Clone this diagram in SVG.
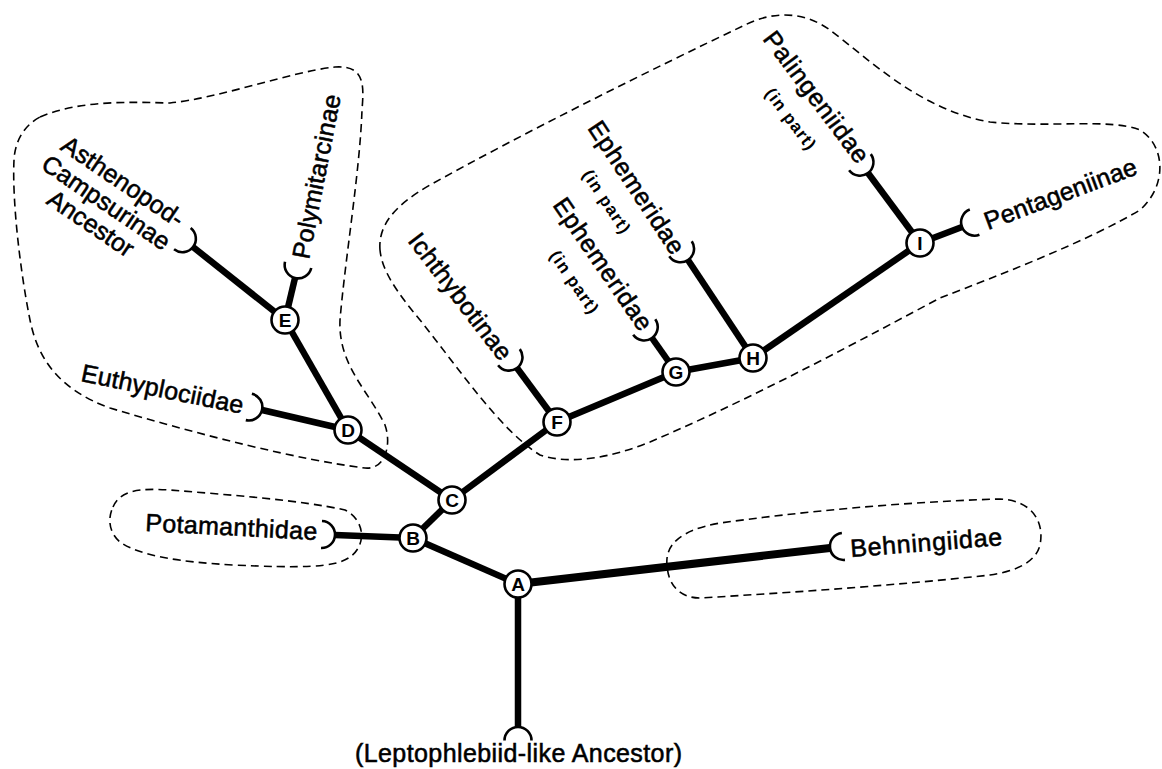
<svg xmlns="http://www.w3.org/2000/svg" xmlns:xlink="http://www.w3.org/1999/xlink" width="1162" height="769" viewBox="0 0 1162 769">
<style>
.region{fill:none;stroke:#000;stroke-width:1.6;stroke-dasharray:8 5}
.branch{stroke:#000;stroke-width:6.5;stroke-linecap:butt;fill:none}
.thick{stroke-width:8}
.cup{fill:none;stroke:#000;stroke-width:2.6}
.node circle{fill:#fff;stroke:#000;stroke-width:2.6}
.node text{font-family:"Liberation Sans",Arial,sans-serif;font-weight:bold;font-size:19px;text-anchor:middle;fill:#000}
.lbl{font-family:"Liberation Sans",Arial,sans-serif;font-size:25px;fill:#000;stroke:#000;stroke-width:0.55}
.sub{font-family:"Liberation Sans",Arial,sans-serif;font-size:17px;font-weight:bold;fill:#000}
</style>
<defs>
<path id="cup" class="cup" d="M 13.5,-13.5 A 13.5 13.5 0 0 0 13.5,13.5"/>
</defs>
<rect width="1162" height="769" fill="#fff"/>

<g id="regions">
<path class="region" d="M 40,117 C 80,100 130,102 170,103 C 220,98 290,72 335,67 C 365,65 364,85 362,110 C 360,170 345,260 340,320 C 338,365 368,390 385,425 C 392,445 385,470 365,468 C 300,460 200,435 110,408 C 60,390 38,360 30,320 C 20,270 12,200 14,160 C 15,140 25,125 40,117 Z"/>
<path class="region" d="M 380,250 C 378,225 395,205 430,185 C 520,135 650,70 745,25 C 775,10 805,12 830,30 C 870,60 920,110 990,122 C 1050,128 1110,118 1140,130 C 1165,145 1168,185 1140,210 C 1090,240 1000,275 940,298 C 870,335 760,395 650,442 C 610,458 570,465 540,455 C 500,430 460,370 420,320 C 395,290 382,270 380,250 Z"/>
<path class="region" d="M 113,507 C 120,490 140,488 170,490 C 230,495 300,500 345,510 C 365,520 367,545 350,557 C 335,568 300,568 233,565 C 180,562 140,556 120,542 C 108,532 108,517 113,507 Z"/>
<path class="region" d="M 667,565 C 665,545 680,530 720,523 C 800,512 900,502 1000,499 C 1030,500 1045,520 1040,545 C 1035,565 1010,572 990,575 C 900,585 800,592 700,598 C 680,598 668,585 667,565 Z"/>
</g>

<g id="connectors">
<line class="branch" x1="518" y1="584" x2="518" y2="727"/>
<line class="branch" x1="518" y1="584" x2="413" y2="538"/>
<line class="branch thick" x1="518" y1="584" x2="830" y2="548"/>
<line class="branch" x1="413" y1="538" x2="452" y2="500"/>
<line class="branch" x1="413" y1="538" x2="335" y2="535"/>
<line class="branch" x1="452" y1="500" x2="348" y2="430"/>
<line class="branch" x1="452" y1="500" x2="557" y2="422"/>
<line class="branch" x1="348" y1="430" x2="285" y2="320"/>
<line class="branch" x1="348" y1="430" x2="262" y2="410"/>
<line class="branch" x1="285" y1="320" x2="193" y2="247"/>
<line class="branch" x1="285" y1="320" x2="295" y2="278"/>
<line class="branch" x1="557" y1="422" x2="517" y2="368"/>
<line class="branch" x1="557" y1="422" x2="676" y2="372"/>
<line class="branch" x1="676" y1="372" x2="652" y2="338"/>
<line class="branch" x1="676" y1="372" x2="753" y2="358"/>
<line class="branch" x1="753" y1="358" x2="688" y2="260"/>
<line class="branch" x1="753" y1="358" x2="920" y2="243"/>
<line class="branch" x1="920" y1="243" x2="868" y2="173"/>
<line class="branch" x1="920" y1="243" x2="962" y2="227"/>
</g>

<g id="cups">
<use xlink:href="#cup" href="#cup" transform="translate(518,727) rotate(90)"/>
<use xlink:href="#cup" href="#cup" transform="translate(335,535) rotate(182)"/>
<use xlink:href="#cup" href="#cup" transform="translate(830,548) rotate(-6.6)"/>
<use xlink:href="#cup" href="#cup" transform="translate(262,410) rotate(193)"/>
<use xlink:href="#cup" href="#cup" transform="translate(193,247) rotate(218)"/>
<use xlink:href="#cup" href="#cup" transform="translate(295,278) rotate(-76.6)"/>
<use xlink:href="#cup" href="#cup" transform="translate(517,368) rotate(233.5)"/>
<use xlink:href="#cup" href="#cup" transform="translate(652,338) rotate(234.8)"/>
<use xlink:href="#cup" href="#cup" transform="translate(688,260) rotate(236.4)"/>
<use xlink:href="#cup" href="#cup" transform="translate(868,173) rotate(233.4)"/>
<use xlink:href="#cup" href="#cup" transform="translate(962,227) rotate(-20.9)"/>
</g>

<g id="node-A" class="node"><circle cx="518" cy="584" r="13.5"/><text x="518" y="591">A</text></g>
<g id="node-B" class="node"><circle cx="413" cy="538" r="13.5"/><text x="413" y="545">B</text></g>
<g id="node-C" class="node"><circle cx="452" cy="500" r="13.5"/><text x="452" y="507">C</text></g>
<g id="node-D" class="node"><circle cx="348" cy="430" r="13.5"/><text x="348" y="437">D</text></g>
<g id="node-E" class="node"><circle cx="285" cy="320" r="13.5"/><text x="285" y="327">E</text></g>
<g id="node-F" class="node"><circle cx="557" cy="422" r="13.5"/><text x="557" y="429">F</text></g>
<g id="node-G" class="node"><circle cx="676" cy="372" r="13.5"/><text x="676" y="379">G</text></g>
<g id="node-H" class="node"><circle cx="753" cy="358" r="13.5"/><text x="753" y="365">H</text></g>
<g id="node-I" class="node"><circle cx="920" cy="243" r="13.5"/><text x="920" y="250">I</text></g>

<g id="leaf-root"><text class="lbl" x="518.5" y="762" text-anchor="middle" textLength="327">(Leptophlebiid-like Ancestor)</text></g>
<g id="leaf-potamanthidae"><text class="lbl" transform="translate(145,531) rotate(3)" textLength="172">Potamanthidae</text></g>
<g id="leaf-behningiidae"><text class="lbl" transform="translate(851,557) rotate(-4.5)" textLength="152">Behningiidae</text></g>
<g id="leaf-euthyplociidae"><text class="lbl" transform="translate(80,381) rotate(11.5)" textLength="165">Euthyplociidae</text></g>
<g id="leaf-asthenopod" transform="rotate(34)">
<text class="lbl" x="132.5" y="90.3">Asthenopod-</text>
<text class="lbl" x="127" y="117">Campsurinae</text>
<text class="lbl" x="151" y="143">Ancestor</text>
</g>
<g id="leaf-polymitarcinae"><text class="lbl" transform="translate(309,260) rotate(-79)" textLength="167">Polymitarcinae</text></g>
<g id="leaf-ichthybotinae"><text class="lbl" transform="translate(407,241) rotate(52.5)" textLength="153">Ichthybotinae</text></g>
<g id="leaf-ephemeridae-g" transform="translate(552,205) rotate(55.5)">
<text class="lbl" textLength="155">Ephemeridae</text>
<text class="sub" x="40" y="31" textLength="72">(in part)</text>
</g>
<g id="leaf-ephemeridae-h" transform="translate(587,128) rotate(56.5)">
<text class="lbl" textLength="154">Ephemeridae</text>
<text class="sub" x="36" y="30" textLength="72">(in part)</text>
</g>
<g id="leaf-palingeniidae" transform="translate(762,39) rotate(53)">
<text class="lbl" textLength="158">Palingeniidae</text>
<text class="sub" x="45" y="31" textLength="72">(in part)</text>
</g>
<g id="leaf-pentageniinae"><text class="lbl" transform="translate(988,230) rotate(-20.5)" textLength="161">Pentageniinae</text></g>
</svg>
